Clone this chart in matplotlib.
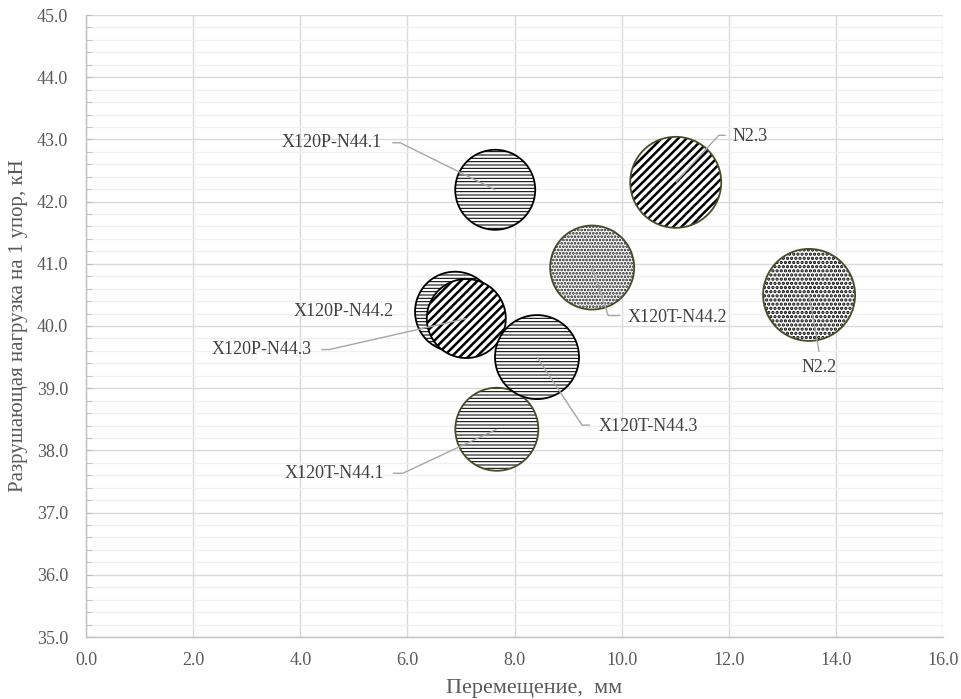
import numpy as np
import matplotlib
matplotlib.use("Agg")
import matplotlib.pyplot as plt
from matplotlib.ticker import MultipleLocator, FormatStrFormatter

plt.rcParams['font.family'] = ['Liberation Serif', 'DejaVu Serif']

## data: displacement (mm), failure load (kN), bubble size
names = ['X120P-N44.1', 'X120P-N44.2', 'X120P-N44.3',
         'X120T-N44.1', 'X120T-N44.2', 'X120T-N44.3',
         'N2.2', 'N2.3']
disp = [7.64, 6.89, 7.10, 7.67, 9.45, 8.42, 13.50, 11.01]
load = [42.19, 40.23, 40.12, 38.34, 40.94, 39.50, 40.50, 42.31]
bubble = [8.0, 8.0, 7.9, 8.3, 8.4, 8.4, 9.2, 9.1]

## styles
hatches = ['-----', '-----', '////', '-----', '.....', '-----', '....', '////']
hatch_col = ['black', 'black', 'black', 'black', '#1a1a1a', 'black', 'black', 'black']
hatch_lw = [0.75, 0.75, 1.8, 0.75, 1.3, 0.75, 1.6, 1.8]
edge_col = ['black', 'black', 'black', '#4a4a28', '#4a4a28', 'black', '#4a4a28', '#4a4a28']

## label layout, pixel offsets from the point (x right, y down)
lab_off = [(-113, -47), (-61, 0), (-155, 31), (-113, 44),
           (35, 50), (62, 69), (10, 73), (57, -46)]
lab_ha = ['right', 'right', 'right', 'right', 'left', 'left', 'center', 'left']
leaders = [[(-103, -47), (-95, -47), (0, 0)],
           None,
           [(-145, 31), (-137, 31), (0, 0)],
           [(-104, 44), (-94, 44), (0, 0)],
           [(28, 48), (16, 48), (0, 0)],
           [(53, 68), (45, 68), (0, 0)],
           [(10, 57), (0, 0)],
           [(50, -47), (43, -47), (0, 0)]]

fig = plt.figure(figsize=(9.61, 6.99), dpi=100)
ax = fig.add_axes([86/961, 62/699, 857/961, 622/699])

ax.set_xlim(0, 16)
ax.set_ylim(35, 45)
ax.xaxis.set_major_locator(MultipleLocator(2))
ax.yaxis.set_major_locator(MultipleLocator(1))
ax.yaxis.set_minor_locator(MultipleLocator(0.2))
ax.xaxis.set_major_formatter(FormatStrFormatter('%.1f'))
ax.yaxis.set_major_formatter(FormatStrFormatter('%.1f'))

ax.set_axisbelow(True)
ax.grid(which='major', color='#d9d9d9', lw=1.0)
ax.grid(which='minor', axis='y', color='#f0f0f0', lw=1.0)
for s in ['top', 'right']:
    ax.spines[s].set_visible(False)
for s in ['left', 'bottom']:
    ax.spines[s].set_color('#bfbfbf')
    ax.spines[s].set_linewidth(1.0)

ax.tick_params(axis='x', length=0, pad=11, labelsize=13, labelcolor='#595959')
ax.tick_params(axis='y', which='both', direction='in', length=4, color='#bfbfbf',
               pad=13, labelsize=13, labelcolor='#595959')

for i in range(len(names)):
    s = (2 * bubble[i] * 5 * 0.72) ** 2
    sc = ax.scatter([disp[i]], [load[i]], s=s, marker='o', facecolor='white',
                    edgecolor=hatch_col[i], linewidth=0, hatch=hatches[i],
                    zorder=2 + 2 * i)
    try:
        sc.set_hatch_linewidth(hatch_lw[i])
    except AttributeError:
        pass
    ax.scatter([disp[i]], [load[i]], s=s, marker='o', facecolor='none',
               edgecolor=edge_col[i], linewidth=1.3, zorder=3 + 2 * i)

## leader lines and labels
inv = ax.transData.inverted()
for i in range(len(names)):
    px, py = ax.transData.transform((disp[i], load[i]))
    if leaders[i] is not None:
        pts = np.array([(px + ox, py - oy) for ox, oy in leaders[i]])
        pts = inv.transform(pts)
        ax.plot(pts[:, 0], pts[:, 1], color='#a6a6a6', lw=1.0, zorder=40,
                solid_capstyle='butt')
    ax.annotate(names[i], (disp[i], load[i]),
                xytext=(lab_off[i][0], -lab_off[i][1]), textcoords='offset pixels',
                ha=lab_ha[i], va='center', fontsize=13, color='#404040', zorder=41)

ax.set_xlabel('Перемещение,  мм', fontsize=16, color='#595959')
ax.set_ylabel('Разрушающая нагрузка на 1 упор, кН', fontsize=15, color='#595959')
ax.xaxis.label.set_va('center')
ax.yaxis.label.set_va('center')
ax.xaxis.set_label_coords(0.523, -0.082)
ax.yaxis.set_label_coords(-0.079, 0.5)

fig.savefig('out.png', dpi=100)
